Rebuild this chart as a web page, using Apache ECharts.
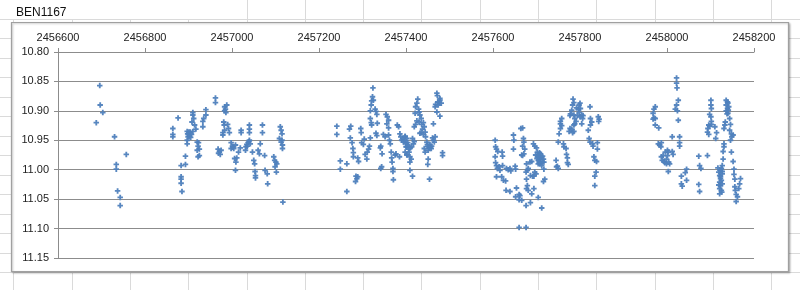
<!DOCTYPE html>
<html>
<head>
<meta charset="utf-8">
<script src="https://cdn.jsdelivr.net/npm/echarts@6/dist/echarts.min.js"></script>
<style>html,body{margin:0;padding:0;background:#fff}#c{width:800px;height:290px}</style>
</head>
<body>
<div id="c"></div>
<script>
const title = 'BEN1167';
const xTicks = [2456600, 2458200, 200];
const yTicks = [10.80, 11.15, 0.05];

const season2014 = [
[2456696,10.857],[2456697,10.890],[2456703,10.903],[2456688,10.920],[2456730,10.944],[2456757,10.974],
[2456734,10.991],[2456734,10.999],[2456737,11.036],[2456743,11.047],[2456743,11.061]
];
const season2015 = [
[2456864,10.930],[2456864,10.940],[2456864,10.944],[2456876,10.912],[2456883,10.993],[2456893,10.977],[2456893,10.991],
[2456883,11.012],[2456883,11.016],[2456883,11.023],[2456885,11.037],[2456897,10.935],[2456898,10.939],[2456899,10.944],
[2456897,10.950],[2456897,10.956],[2456904,10.936],[2456907,10.940],[2456902,10.943],[2456910,10.935],[2456908,10.919],
[2456910,10.907],[2456910,10.903],[2456912,10.913],[2456914,10.924],[2456917,10.931],[2456920,10.953],[2456922,10.960],
[2456920,10.967],[2456925,10.976],[2456922,10.978],[2456923,10.954],[2456925,10.965],[2456933,10.918],[2456935,10.913],
[2456933,10.927],[2456940,10.907],[2456940,10.898],[2456962,10.878],[2456962,10.886],[2456983,10.893],[2456985,10.897],
[2456986,10.903],[2456988,10.890],[2456983,10.900],[2456981,10.919],[2456982,10.924],[2456983,10.933],[2456979,10.937],
[2456979,10.941],[2456990,10.923],[2456992,10.930],[2456994,10.937],[2456968,10.965],[2456971,10.969],[2456973,10.974],
[2456969,10.972],[2456998,10.954],[2457001,10.960],[2457004,10.964],[2456998,10.964],[2457008,10.958],[2457006,10.981],
[2457009,10.987],[2457008,11.001],[2457011,10.980],[2457015,10.970],[2457019,10.963],[2457021,10.933],[2457021,10.937],
[2457031,10.967],[2457032,10.961],[2457034,10.957],[2457037,10.954],[2457040,10.950],[2457042,10.956],[2457040,10.924],
[2457040,10.931],[2457040,10.937],[2457047,10.970],[2457050,10.984],[2457053,11.003],[2457054,11.010],[2457054,11.014],
[2457052,10.990],[2457060,10.967],[2457063,10.973],[2457065,10.956],[2457070,10.937],[2457070,10.924],[2457075,10.976],
[2457076,11.001],[2457081,11.007],[2457082,11.024],[2457096,10.978],[2457098,10.984],[2457101,10.987],[2457099,10.995],
[2457103,10.990],[2457102,11.004],[2457111,10.927],[2457113,10.933],[2457115,10.939],[2457109,10.947],[2457113,10.953],
[2457116,10.958],[2457115,10.950],[2457116,10.964],[2457117,11.055],
[2456900,10.940],[2456905,10.945],[2456901,10.936],[2457002,10.962],[2457035,10.960],[2457039,10.952],[2456975,10.967]
];
const season2016 = [
[2457241,10.926],[2457241,10.940],[2457249,10.985],[2457249,10.999],[2457264,10.990],[2457264,11.037],[2457270,10.931],
[2457272,10.946],[2457273,10.926],[2457276,10.954],[2457278,10.964],[2457279,10.971],[2457279,10.978],[2457285,11.011],
[2457287,11.015],[2457289,11.012],[2457284,11.020],[2457289,10.980],[2457291,10.986],[2457296,10.930],[2457297,10.937],
[2457298,10.954],[2457302,10.957],[2457304,10.948],[2457306,10.974],[2457310,10.982],[2457311,10.970],[2457314,10.965],
[2457316,10.960],[2457318,10.946],[2457318,10.913],[2457320,10.920],[2457321,10.924],[2457318,10.900],[2457320,10.890],
[2457321,10.883],[2457323,10.876],[2457324,10.861],[2457325,10.882],[2457329,10.897],[2457331,10.901],[2457333,10.906],
[2457334,10.921],[2457331,10.938],[2457333,10.942],[2457341,10.963],[2457342,10.960],[2457345,10.973],[2457342,10.998],
[2457344,10.995],[2457348,10.940],[2457352,10.944],[2457354,10.906],[2457357,10.910],[2457360,10.916],[2457356,10.922],
[2457360,10.929],[2457360,10.941],[2457362,10.950],[2457364,10.956],[2457366,10.970],[2457367,10.980],[2457368,10.987],
[2457370,10.998],[2457370,11.003],[2457371,11.017],[2457375,10.975],[2457377,10.973],[2457380,10.924],[2457383,10.927],
[2457386,10.939],[2457388,10.944],[2457390,10.950],[2457393,10.947],[2457394,10.953],[2457398,10.944],[2457400,10.956],
[2457402,10.961],[2457398,10.970],[2457402,10.975],[2457385,10.978],
[2457398,10.943],[2457402,10.947],[2457404,10.954],[2457400,10.961],[2457406,10.965],[2457407,10.970],[2457402,10.974],
[2457409,10.978],[2457412,10.982],[2457409,10.987],[2457409,11.001],[2457415,11.011],[2457415,10.947],[2457417,10.956],
[2457419,10.952],[2457413,10.961],[2457419,10.927],[2457422,10.923],[2457425,10.917],[2457421,10.904],[2457422,10.893],
[2457425,10.887],[2457427,10.880],[2457429,10.897],[2457430,10.902],[2457432,10.907],[2457435,10.913],[2457430,10.919],
[2457436,10.923],[2457438,10.931],[2457440,10.920],[2457442,10.927],[2457432,10.938],[2457435,10.937],[2457440,10.940],
[2457444,10.936],[2457445,10.944],[2457448,10.953],[2457450,10.960],[2457451,10.967],[2457453,10.963],[2457455,10.957],
[2457458,10.964],[2457459,10.960],[2457461,10.946],[2457463,10.950],[2457465,10.953],[2457467,10.944],[2457442,10.964],
[2457444,10.970],[2457451,10.982],[2457450,10.991],[2457454,11.016],[2457463,10.922],[2457467,10.893],[2457468,10.889],
[2457471,10.870],[2457472,10.874],[2457473,10.885],[2457474,10.890],[2457476,10.886],[2457478,10.882],[2457478,10.879],
[2457481,10.887],[2457471,10.902],[2457478,10.909],[2457484,10.971],[2457484,10.976],
[2457396,10.950],[2457404,10.958],[2457410,10.963],[2457456,10.961],[2457449,10.957]
];
const season2017 = [
[2457605,10.950],[2457606,10.961],[2457608,10.965],[2457611,10.969],[2457605,10.978],[2457606,10.988],[2457608,10.993],
[2457610,10.998],[2457608,11.012],[2457616,11.001],[2457614,10.995],[2457621,10.970],[2457622,10.977],[2457620,11.012],
[2457624,11.018],[2457622,10.993],[2457631,10.998],[2457629,11.019],[2457635,11.000],[2457639,10.998],[2457641,11.002],
[2457630,11.035],[2457639,11.037],[2457647,10.941],[2457648,10.950],[2457647,10.965],[2457651,10.994],[2457652,10.999],
[2457654,11.031],[2457652,11.046],[2457660,11.042],[2457660,11.051],[2457664,10.930],[2457666,10.975],
[2457660,11.098],[2457676,11.098],
[2457668,10.929],[2457670,10.947],[2457671,10.953],[2457668,10.960],[2457673,10.965],[2457671,10.973],[2457668,10.976],
[2457662,11.044],[2457666,11.052],[2457677,10.990],[2457679,11.001],[2457676,11.004],[2457681,10.998],[2457677,11.016],
[2457679,11.027],[2457677,11.032],[2457681,11.035],[2457676,11.061],[2457685,10.987],[2457689,10.986],[2457686,11.010],
[2457691,11.011],[2457694,11.011],[2457689,11.041],[2457694,11.032],[2457696,11.004],[2457699,11.007],[2457686,11.056],
[2457693,10.956],[2457696,10.960],[2457700,10.963],[2457702,10.970],[2457704,10.974],[2457706,10.978],[2457708,10.982],
[2457709,10.986],[2457712,10.980],[2457714,10.977],[2457716,10.982],[2457717,10.987],[2457708,10.990],[2457712,10.993],
[2457704,10.990],[2457709,10.973],[2457704,10.984],[2457714,10.987],[2457706,10.987],[2457717,10.999],[2457719,11.016],
[2457716,11.020],[2457704,11.047],[2457712,11.065],
[2457745,10.984],[2457746,10.995],[2457748,10.994],[2457750,10.998],[2457750,10.953],[2457752,10.939],[2457755,10.930],
[2457758,10.925],[2457755,10.918],[2457758,10.913],[2457755,10.922],[2457762,10.956],[2457763,10.961],[2457768,10.964],
[2457769,10.974],[2457771,10.980],[2457773,10.991],[2457771,10.988],[2457775,10.935],[2457777,10.930],[2457781,10.931],
[2457783,10.937],[2457786,10.935],[2457786,10.924],[2457788,10.922],[2457791,10.918],[2457788,10.913],[2457786,10.907],
[2457783,10.890],[2457784,10.880],[2457786,10.886],[2457792,10.895],[2457796,10.897],[2457798,10.890],[2457800,10.887],
[2457801,10.896],[2457804,10.907],[2457806,10.913],[2457804,10.922],[2457800,10.910],[2457777,10.908],[2457778,10.905],
[2457781,10.899],[2457794,10.908],[2457798,10.903],[2457807,10.908],[2457823,10.893],[2457824,10.913],[2457827,10.919],
[2457824,10.924],[2457819,10.933],[2457821,10.947],[2457823,10.953],[2457829,10.956],[2457830,10.960],[2457832,10.978],
[2457834,10.984],[2457838,10.986],[2457840,10.954],[2457840,10.965],[2457837,11.004],[2457834,11.011],[2457834,11.027],
[2457842,10.910],[2457844,10.914],[2457843,10.918],
[2457698,10.975],[2457701,10.981],[2457707,10.971],[2457710,10.976],[2457703,10.978]
];
const season2018 = [
[2457973,10.893],[2457970,10.897],[2457968,10.904],[2457970,10.912],[2457968,10.914],[2457973,10.913],[2457973,10.924],
[2457981,10.929],[2457980,10.956],[2457983,10.958],[2457987,10.954],[2457986,10.961],[2457987,10.978],[2457991,10.976],
[2457989,10.984],[2457993,10.986],[2457995,10.988],[2457999,10.982],[2458001,10.967],[2458003,10.970],[2457999,10.990],
[2458004,10.987],[2458006,10.990],[2458003,11.003],[2457996,10.970],[2458001,10.976],[2458012,10.944],[2458012,10.969],
[2458014,10.974],[2458022,10.844],[2458022,10.853],[2458023,10.861],[2458026,10.882],[2458022,10.890],[2458019,10.897],
[2458024,10.900],[2458026,10.916],[2458029,10.944],[2458029,10.954],[2458029,10.960],[2458045,10.999],[2458042,11.005],
[2458033,11.011],[2458045,11.018],[2458033,11.024],[2458035,11.028],[2458073,10.977],[2458075,10.993],[2458078,10.998],
[2458073,11.025],[2458075,11.037],[2458093,10.976],[2458101,10.882],[2458101,10.890],[2458102,10.896],[2458098,10.906],
[2458101,10.910],[2458102,10.918],[2458096,10.924],[2458094,10.930],[2458093,10.936],[2458096,10.940],[2458098,10.926],
[2458102,10.923],[2458110,10.927],[2458114,10.937],[2458112,10.947],[2458117,10.997],[2458119,11.004],[2458121,11.010],
[2458123,11.015],[2458121,11.021],[2458123,11.027],[2458121,11.032],[2458125,11.035],[2458121,11.041],[2458123,11.012],
[2458127,11.007],[2458127,11.003],[2458127,10.993],[2458129,10.982],[2458129,10.969],[2458131,10.961],[2458131,10.956],
[2458133,10.924],[2458134,10.919],[2458131,10.930],[2458136,10.882],[2458139,10.885],[2458140,10.887],[2458136,10.890],
[2458142,10.893],[2458139,10.896],[2458136,10.900],[2458140,10.904],[2458144,10.913],[2458146,10.923],[2458144,10.933],
[2458148,10.939],[2458149,10.944],[2458146,10.950],[2458148,10.970],[2458152,10.941],[2458152,10.986],[2458154,10.999],
[2458154,11.008],[2458156,11.016],[2458156,11.029],[2458157,11.035],[2458159,11.042],[2458162,11.046],[2458159,11.054],
[2458165,11.032],[2458167,11.024],[2458169,11.015],
[2458125,10.998],[2458125,11.018],[2458127,11.024],[2458119,11.026],[2458126,11.038],[2458123,11.001],[2458138,10.905],
[2458141,10.899]
];

const allData = season2014.concat(season2015, season2016, season2017, season2018);

const chart = echarts.init(document.getElementById('c'), null, {renderer: 'canvas'});
const FONT = 'Liberation Sans';
const grey = '#8c8c8c';

// spreadsheet background lines
const bg = [];
for (let k = 0; k < 14; k++) {
  const x = Math.round(13.3 + 58.3 * k) + 0.5;
  bg.push({type: 'line', z: -20, shape: {x1: x, y1: 0, x2: x, y2: 290}, style: {stroke: '#dadada', lineWidth: 1}});
}
for (let k = 0; k < 16; k++) {
  const y = Math.round(-1 + 19.5 * k) + 0.5;
  bg.push({type: 'line', z: -20, shape: {x1: 0, y1: y, x2: 800, y2: y}, style: {stroke: '#dadada', lineWidth: 1}});
}
bg.push({type: 'rect', z: -10, shape: {x: 11.5, y: 22.5, width: 777, height: 249}, style: {fill: '#fff', stroke: '#a0a0a0', lineWidth: 1.2, shadowColor: 'rgba(0,0,0,0.25)', shadowBlur: 2, shadowOffsetX: 1, shadowOffsetY: 1}});
bg.push({type: 'rect', z: -15, shape: {x: 13, y: 0, width: 200, height: 19}, style: {fill: '#fff'}});
bg.push({type: 'text', z: 5, left: 16, top: 7, style: {text: title, font: '12px "' + FONT + '"', fill: '#111'}});

chart.setOption({
  animation: false,
  backgroundColor: '#fff',
  graphic: bg,
  grid: {left: 58, right: 46, top: 52, bottom: 32, containLabel: false},
  xAxis: {
    type: 'value', position: 'top',
    min: xTicks[0], max: xTicks[1], interval: xTicks[2],
    axisLine: {show: true, onZero: false, lineStyle: {color: grey, width: 1}},
    axisTick: {show: true, length: 4, lineStyle: {color: grey}},
    axisLabel: {margin: 9, color: '#222', fontFamily: FONT, fontSize: 11, formatter: v => String(v)},
    splitLine: {show: false}
  },
  yAxis: {
    type: 'value', inverse: true,
    min: yTicks[0], max: yTicks[1], interval: yTicks[2],
    axisLine: {show: true, onZero: false, lineStyle: {color: grey, width: 1}},
    axisTick: {show: true, length: 4, lineStyle: {color: grey}},
    axisLabel: {margin: 9, color: '#222', fontFamily: FONT, fontSize: 11, formatter: v => v.toFixed(2)},
    splitLine: {show: true, lineStyle: {color: grey, width: 1}}
  },
  series: [{
    type: 'scatter',
    data: allData,
    symbol: 'path://M2,0H4V2H6V4H4V6H2V4H0V2H2Z',
    symbolSize: 5.5,
    itemStyle: {color: '#4F81BD', opacity: 0.95}
  }]
});
</script>
</body>
</html>
